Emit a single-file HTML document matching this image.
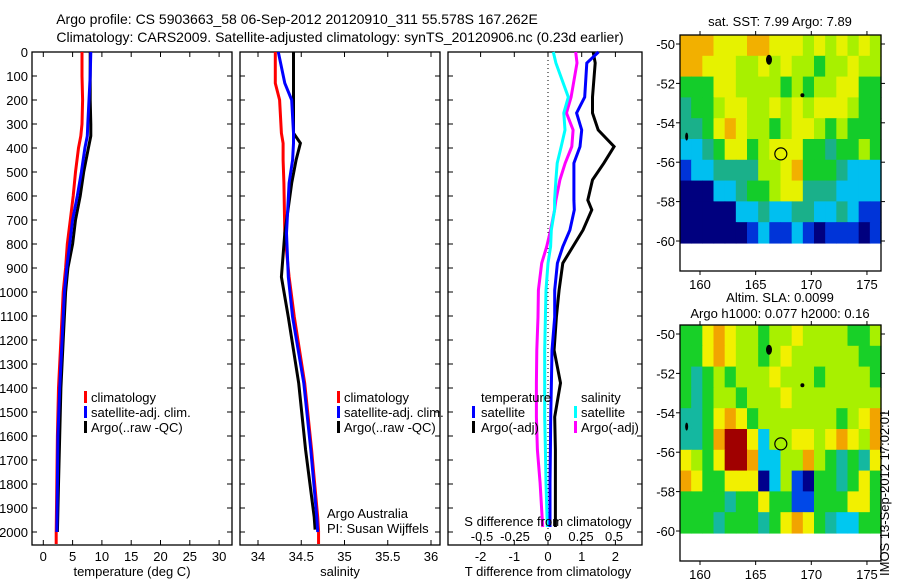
<!DOCTYPE html>
<html><head><meta charset="utf-8">
<style>
html,body{margin:0;padding:0;background:#fff;}
svg{display:block;font-family:"Liberation Sans",sans-serif;}
</style></head>
<body>
<svg id="chart" width="900" height="580" viewBox="0 0 900 580">
<g id="g-titles">
<text x="297" y="24" font-size="14" text-anchor="middle">Argo profile: CS 5903663_58 06-Sep-2012 20120910_311 55.578S 167.262E</text>
<text x="340" y="42" font-size="14" text-anchor="middle">Climatology: CARS2009. Satellite-adjusted climatology: synTS_20120906.nc (0.23d earlier)</text>
</g>
<g id="maps"></g>
<g id="panels"></g>
<text transform="translate(889,576) rotate(-90)" font-size="13">IMOS 13-Sep-2012 17:02:01</text>
</svg>
<script>
// ---- data ----
const depths = [0,100,200,300,350,400,500,600,700,800,900,1000,1200,1400,1600,1800,2000];
const tempClim = [6.6,6.6,6.7,6.6,6.4,6.0,5.5,5.1,4.6,4.1,3.8,3.4,3.0,2.6,2.4,2.3,2.2];
const tempSat  = [8.1,8.0,7.8,7.6,7.5,7.1,6.5,5.8,5.0,4.5,4.0,3.6,3.2,2.8,2.5,2.4,2.3];
const tempArgo = [8.0,8.0,8.0,8.1,8.1,7.7,6.9,6.3,5.5,5.0,4.2,3.8,3.4,3.0,2.8,2.6,2.4];

const salDepths = [0,130,200,338,380,450,546,755,937,1104,1380,1658,1938,2000];
const salClim = [34.20,34.20,34.25,34.27,34.29,34.29,34.30,34.31,34.36,34.42,34.54,34.62,34.69,34.70];
const salSat  = [34.235,34.31,34.39,34.41,34.41,34.40,34.36,34.33,34.35,34.40,34.53,34.61,34.68,34.69];
const salArgo = [34.41,34.41,34.41,34.41,34.49,34.44,34.39,34.31,34.27,34.35,34.47,34.55,34.65,34.66];

const diffDepths = [0,46,188,254,325,394,463,533,617,658,742,811,880,992,1104,1242,1379,1521,1658,1796,1979];
const tdiffSat  = [1.50,1.15,1.09,0.85,1.00,0.95,0.77,0.77,0.77,0.78,0.65,0.44,0.28,0.20,0.20,0.12,0.10,0.08,0.07,0.06,0.06];
const tdiffArgo = [1.34,1.40,1.32,1.32,1.49,1.96,1.66,1.32,1.18,1.30,1.04,0.74,0.44,0.33,0.25,0.18,0.37,0.20,0.22,0.22,0.22];
const sdiffSat  = [0.04,0.06,0.154,0.12,0.129,0.10,0.07,0.06,0.05,0.05,0.025,0.02,0.00,-0.015,-0.02,-0.025,-0.025,-0.025,-0.02,-0.015,-0.005];
const sdiffArgo = [0.21,0.22,0.175,0.14,0.19,0.18,0.13,0.09,0.06,0.05,0.02,-0.01,-0.048,-0.073,-0.076,-0.085,-0.088,-0.088,-0.08,-0.06,-0.04];

const depthTicks = [0,100,200,300,400,500,600,700,800,900,1000,1100,1200,1300,1400,1500,1600,1700,1800,1900,2000];
const tempTicks = [0,5,10,15,20,25,30];
const salTicks = [34,34.5,35,35.5,36];
const tdiffTicks = [-2,-1,0,1,2];
const sdiffTicks = [-0.5,-0.25,0,0.25,0.5];
const sdiffLabels = ['-0.5','-0.25','0','0.25','0.5'];
const mapLatTicks = [-50,-52,-54,-56,-58,-60];
const mapLonTicks = [160,165,170,175];

const sstGrid = [
"OOOYYYOOYYYLYLYLYL",
"OOYYYLLYLYLLGLLYLL",
"GGGYYLLLLGLGLLYYGG",
"TGGLYYLLYLYLYYYLGG",
"TTGYOYLLGLYYLGLGGG",
"CCTGYYGLYYYGGTGGLG",
"BCCTTTTLLYOGGGTCCC",
"NNNCCTGGLYYTTTCCCC",
"NNNNNCCTCCTTCCTCBB",
"NNNNNNBCBBCBNBBBNB"];
const slaGrid = [
"GGYOYLLGLLYLLLLGGL",
"GGYOYLLGLYLLLLLLGG",
"GTGLGLLLYLLLGLLLLG",
"GTGLLGLLLYLLLLLLLL",
"TTGYOYGLLLLLLLGLYO",
"TTGORRYCLLYYLYOYLO",
"YLGYRROCCLLOLGTGTY",
"OYGGYYYNCLBNGGTGYG",
"GGGGTGGYGGBBGGGYYG",
"GGGTGGGTGYOYGTCCGG"];
const argoLon = 167.262, argoLat = -55.578;

// ---- helpers ----
const NS='http://www.w3.org/2000/svg';
function mk(tag, attrs, parent){const e=document.createElementNS(NS,tag);for(const k in attrs)e.setAttribute(k,attrs[k]);parent.appendChild(e);return e;}
const panels=document.getElementById('panels');
const TOP=52, BOT=545;
const yD = d => TOP + d*0.24;

function drawPanel(name, x0, x1, xf, ticks, tickFmt, tickLabY){
  const g=mk('g',{},panels);
  
  
  const r=mk('rect',{x:x0,y:TOP,width:x1-x0,height:BOT-TOP,fill:'none',stroke:'#000','stroke-width':1.3},g);
  
  
  depthTicks.forEach(d=>{
    mk('line',{x1:x0,x2:x0+5,y1:yD(d),y2:yD(d),stroke:'#000'},g);
    mk('line',{x1:x1-5,x2:x1,y1:yD(d),y2:yD(d),stroke:'#000'},g);
  });
  ticks.forEach(v=>{
    const x=xf(v);
    mk('line',{x1:x,x2:x,y1:TOP,y2:TOP+5,stroke:'#000'},g);
    mk('line',{x1:x,x2:x,y1:BOT-5,y2:BOT,stroke:'#000'},g);
    if(tickLabY){
      const t=mk('text',{x:x,y:tickLabY,'font-size':13,'text-anchor':'middle'},g);
      t.textContent=tickFmt(v);
      
      
    }
  });
  return g;
}
function line(g, xs, ds, xf, color, name){
  const pts=xs.map((v,i)=>xf(v).toFixed(1)+','+yD(ds[i]).toFixed(1)).join(' ');
  const p=mk('polyline',{points:pts,fill:'none',stroke:color,'stroke-width':3,'stroke-linejoin':'miter'},g);
  
  
}
function txt(g,x,y,s,name,anchor){
  const t=mk('text',{x:x,y:y,'font-size':13,'text-anchor':anchor||'start'},g);
  t.textContent=s;
  
  
  return t;
}
function legendBar(g,x,y,color){
  const r=mk('rect',{x:x,y:y-11,width:3,height:12,fill:color},g);
  
  
}

// depth labels
const dl=mk('g',{},panels);


depthTicks.forEach(d=>{
  txt(dl,28,yD(d)+5,String(d),'y-tick-label','end');
});

// panel 1 temperature
const xT = t => 43.3 + t*5.86;
const p1=drawPanel('temperature-panel',32,232,xT,tempTicks,v=>String(v),561);
line(p1,tempClim,depths,xT,'#f00','temp-climatology-line');
mk('line',{x1:xT(2.2),x2:xT(2.2),y1:yD(2000),y2:yD(2050),stroke:'#f00','stroke-width':3},p1);
line(p1,tempArgo,depths,xT,'#000','temp-argo-line');
line(p1,tempSat,depths,xT,'#00f','temp-satellite-line');
txt(p1,132,576,'temperature (deg C)','x-axis-title','middle');
[['climatology','#f00'],['satellite-adj. clim.','#00f'],['Argo(..raw -QC)','#000']].forEach((l,i)=>{
  legendBar(p1,84,402+i*15,l[1]); txt(p1,91,402+i*15,l[0],'legend-entry');
});

// panel 2 salinity
const xS = s => 258 + (s-34)*86.5;
const p2=drawPanel('salinity-panel',240,440,xS,salTicks,v=>String(v),561);
line(p2,salClim,salDepths,xS,'#f00','sal-climatology-line');
mk('line',{x1:xS(34.70),x2:xS(34.70),y1:yD(2000),y2:yD(2050),stroke:'#f00','stroke-width':3},p2);
line(p2,salArgo,salDepths.slice(0,13).concat([1990]),xS,'#000','sal-argo-line');
line(p2,salSat,salDepths,xS,'#00f','sal-satellite-line');
txt(p2,340,576,'salinity','x-axis-title','middle');
[['climatology','#f00'],['satellite-adj. clim.','#00f'],['Argo(..raw -QC)','#000']].forEach((l,i)=>{
  legendBar(p2,337,402+i*15,l[1]); txt(p2,344,402+i*15,l[0],'legend-entry');
});
txt(p2,327,518,'Argo Australia','credit-line-1');
txt(p2,327,533,'PI: Susan Wijffels','credit-line-2');

// panel 3 differences
const xTd = t => 548 + t*33.7;
const xSd = s => 548 + s*132;
const p3=drawPanel('difference-panel',448,642,xTd,tdiffTicks,v=>String(v),561);
const z=mk('line',{x1:548,x2:548,y1:TOP,y2:BOT,stroke:'#000','stroke-dasharray':'1,3'},p3);


line(p3,sdiffArgo,diffDepths,xSd,'#f0f','sdiff-argo-line');
line(p3,sdiffSat,diffDepths,xSd,'#0ff','sdiff-satellite-line');
line(p3,tdiffArgo,diffDepths,xTd,'#000','tdiff-argo-line');
line(p3,tdiffSat,diffDepths,xTd,'#00f','tdiff-satellite-line');
txt(p3,548,576,'T difference from climatology','x-axis-title','middle');
txt(p3,548,526,'S difference from climatology','s-axis-title','middle');
sdiffTicks.forEach((v,i)=>{ txt(p3,xSd(v),541,sdiffLabels[i],'s-tick-label','middle'); });
txt(p3,481,402,'temperature','legend-title');
legendBar(p3,472,417,'#00f'); txt(p3,481,417,'satellite','legend-entry');
legendBar(p3,472,432,'#000'); txt(p3,481,432,'Argo(-adj)','legend-entry');
txt(p3,581,402,'salinity','legend-title');
legendBar(p3,574,417,'#0ff'); txt(p3,581,417,'satellite','legend-entry');
legendBar(p3,574,432,'#f0f'); txt(p3,581,432,'Argo(-adj)','legend-entry');

// maps
const maps=document.getElementById('maps');
const sstCol={N:'#00007f',B:'#0034d8',C:'#00bff0',T:'#1ab08a',G:'#14cc2a',L:'#a8f000',Y:'#e6f200',O:'#f2b000'};
const slaCol={N:'#00008c',B:'#0048e8',C:'#00c8f0',T:'#14b8a0',G:'#18d028',L:'#a8f000',Y:'#f2f000',O:'#f2a400',R:'#a00000'};
function drawMap(name, top, grid, cols, titles, titleYs){
  const g=mk('g',{},maps);
  
  
  const X0=680, X1=881, Y1=top+236;
  const xL = lon => 700 + (lon-160)*11.13;
  const yL = lat => top+9 + (-50-lat)*19.7;
  const cw=(X1-X0)/18, ch=(yL(-60.1)-top)/10;
  grid.forEach((row,r)=>{
    for(let c=0;c<row.length;c++){
      const cell=mk('rect',{x:(X0+c*cw).toFixed(2),y:(top+r*ch).toFixed(2),width:(cw+0.6).toFixed(2),height:(ch+0.6).toFixed(2),fill:cols[row[c]]},g);
      
      
    }
  });
  [[166.2,-50.8,3,5],[169.2,-52.6,2,2],[158.8,-54.7,1.5,4]].forEach(p=>{
    const e=mk('ellipse',{cx:xL(p[0]),cy:yL(p[1]),rx:p[2],ry:p[3],fill:'#000'},g);
    
    
  });
  const c=mk('circle',{cx:xL(argoLon),cy:yL(argoLat),r:6,fill:'none',stroke:'#000','stroke-width':1.2},g);
  
  
  const f=mk('rect',{x:X0,y:top,width:X1-X0,height:Y1-top,fill:'none',stroke:'#000','stroke-width':1.3},g);
  
  
  mapLatTicks.forEach(lat=>{
    const y=yL(lat);
    mk('line',{x1:X0-4,x2:X0,y1:y,y2:y,stroke:'#000'},g);
    mk('line',{x1:X1,x2:X1+4,y1:y,y2:y,stroke:'#000'},g);
    txt(g,X0-5,y+5,String(lat),'map-lat-label','end');
  });
  mapLonTicks.forEach(lon=>{
    const x=xL(lon);
    mk('line',{x1:x,x2:x,y1:top-4,y2:top,stroke:'#000'},g);
    mk('line',{x1:x,x2:x,y1:Y1,y2:Y1+4,stroke:'#000'},g);
    txt(g,x,Y1+18,String(lon),'map-lon-label','middle');
  });
  titles.forEach((t,i)=>txt(g,780,titleYs[i],t,'map-title','middle'));
}
drawMap('sst-map',35,sstGrid,sstCol,['sat. SST: 7.99 Argo: 7.89'],[26]);
drawMap('sla-map',325,slaGrid,slaCol,['Altim. SLA: 0.0099','Argo h1000: 0.077 h2000: 0.16'],[302,318]);
</script>
</body></html>
